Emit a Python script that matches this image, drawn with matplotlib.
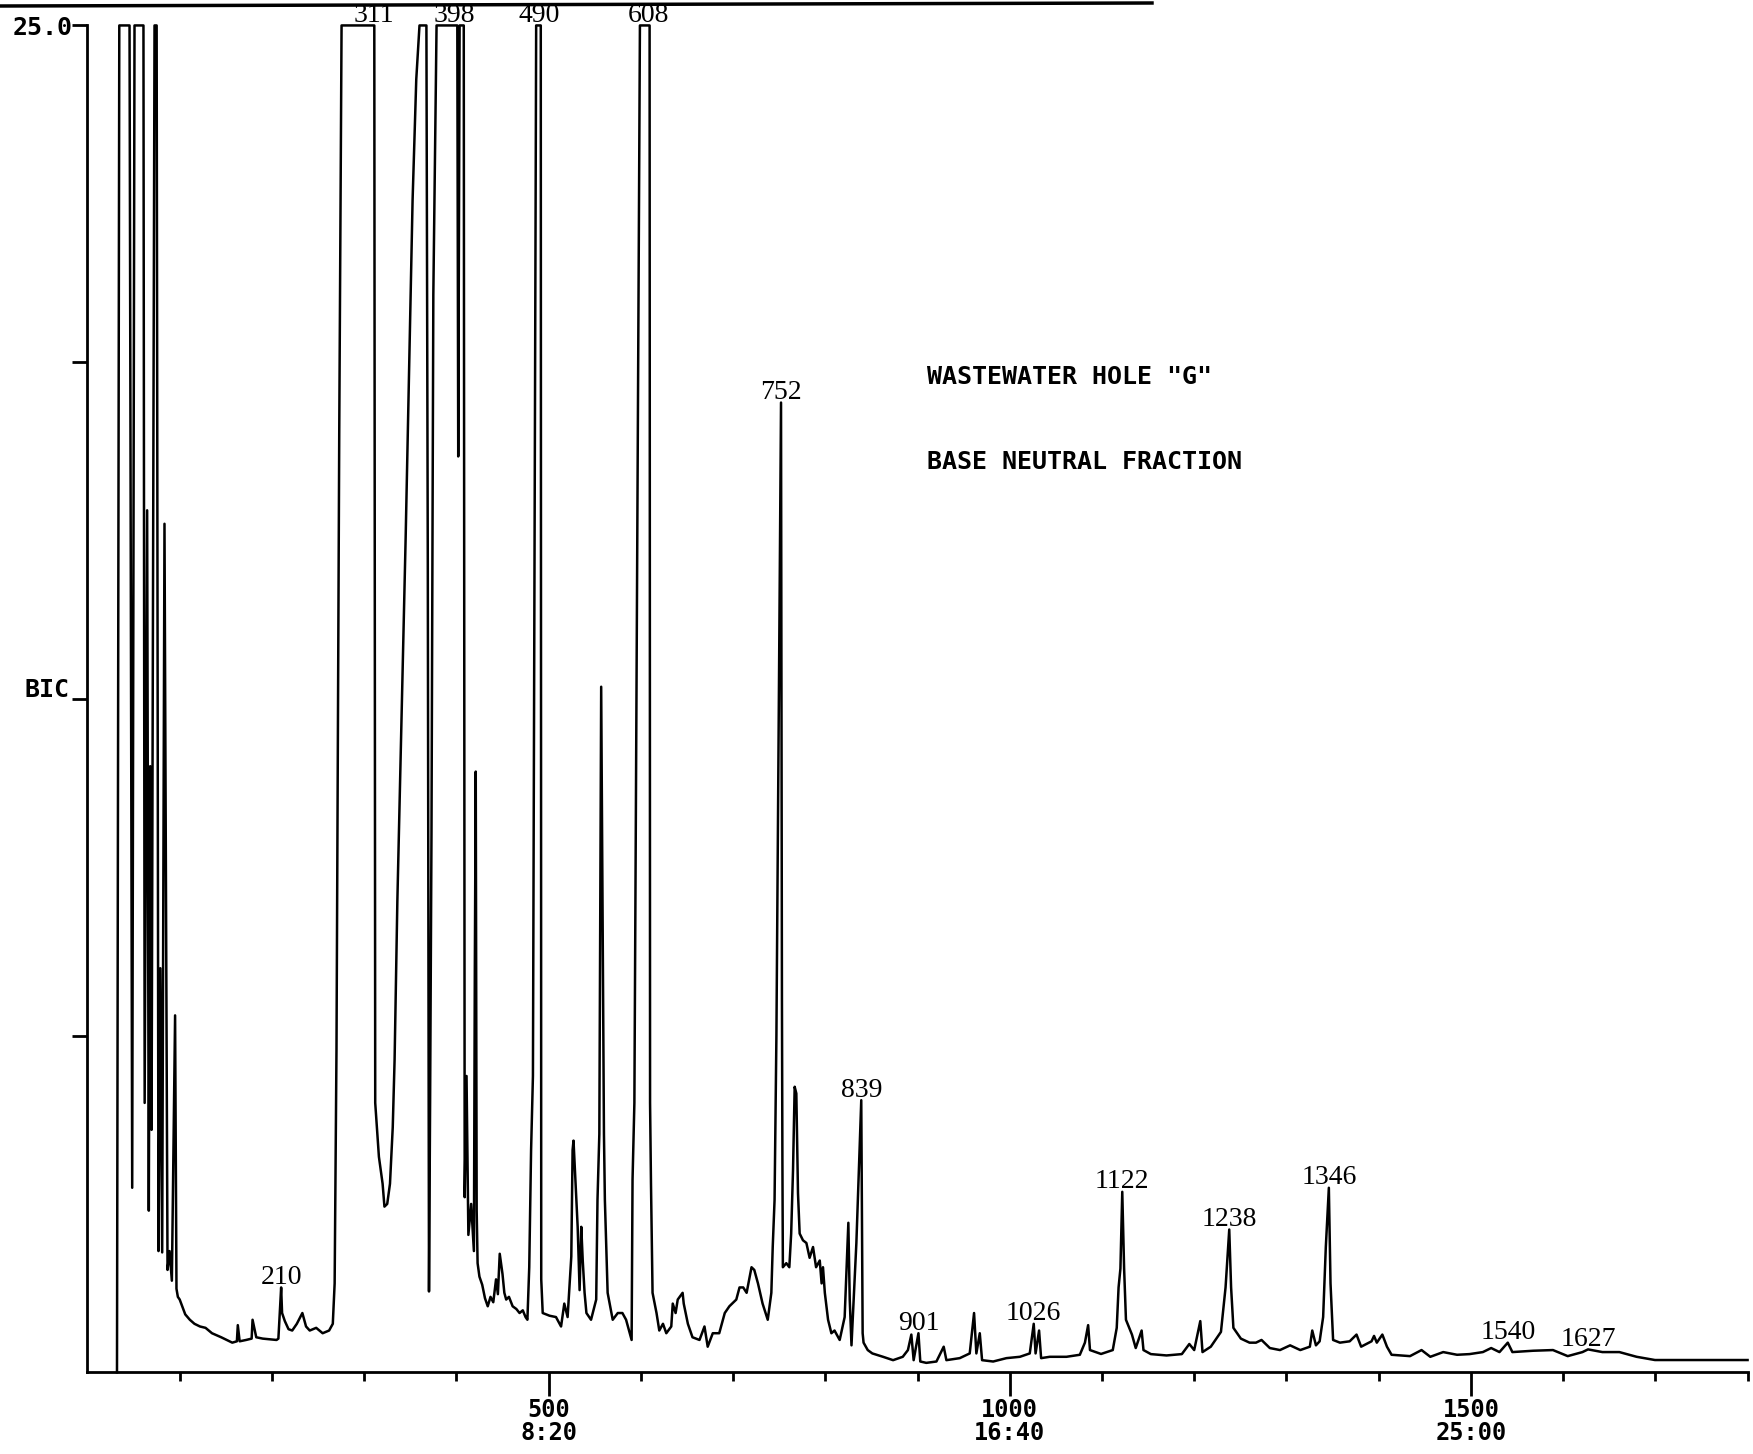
import matplotlib
matplotlib.use("Agg")
import matplotlib.pyplot as plt
from matplotlib.lines import Line2D
import numpy as np

# Trace: scan number vs. abundance in % of the 25.0 full scale.
# Split into stretches of the run so each part stays readable.
scan_front = [32, 34.5, 45.6, 48.5, 51, 60.7, 62, 64.7, 66.5, 68, 69.5,
              72.7, 75, 77, 79, 81, 83.5, 86.8, 89, 91.5, 95, 96.5, 98]
abund_front = [0, 100, 100, 13.7, 100, 100, 20, 64, 12, 45, 18,
               100, 100, 9, 30, 8.9, 63, 7.6, 9, 6.8, 26.5, 6.2, 5.6]

scan_early = [100, 106, 111, 116, 122, 128, 135, 145, 157, 162, 163, 165,
              172, 178, 179, 183, 190, 198, 205, 207, 210, 211, 214, 218,
              222, 227, 233, 237, 241, 248, 255, 262, 266, 268, 270, 273,
              275.5]
abund_early = [5.4, 4.3, 3.9, 3.6, 3.4, 3.3, 2.9, 2.6, 2.2, 2.3, 3.5, 2.3,
               2.4, 2.5, 3.9, 2.6, 2.5, 2.45, 2.4, 2.5, 6.3, 4.4, 3.8, 3.2,
               3.1, 3.6, 4.4, 3.4, 3.1, 3.3, 2.9, 3.1, 3.6, 6.6, 24, 70,
               100]

scan_mid = [311, 312, 316, 320, 322, 325, 328, 331, 333, 336, 345, 352.5,
            356.5, 360, 367.5, 369, 370.3, 371.5, 373, 375, 378.5, 401, 402,
            403.5, 408, 409, 411, 413, 416, 419, 420, 421, 422, 423, 425,
            428, 431, 434, 437, 440, 443, 445, 447, 450, 452, 454, 457, 461,
            465, 468.5, 472, 475, 477, 479, 481, 483, 486.5]
abund_mid = [100, 20, 16, 14, 12.3, 12.5, 14, 18.2, 23.2, 35, 62, 87,
             96, 100, 100, 60, 6, 20, 40, 80, 100, 100, 68,
             100, 100, 13, 22, 10.2, 12.5, 9, 30, 44.6, 12, 8.1, 7.1,
             6.5, 5.5, 4.9, 5.6, 5.2, 6.9, 5.8, 8.8, 7.3, 5.9, 5.4, 5.6, 4.9,
             4.7, 4.4, 4.6, 4.1, 3.9, 7.8, 16.5, 22, 100]

scan_600 = [491.5, 492, 493.6, 501, 508, 513.5, 517, 520.6, 524.6, 526, 527,
            530, 531.5, 533.6, 535.4, 537, 539, 541, 546, 551.6, 553, 555,
            557, 560, 561, 564, 569.5, 575, 580, 584, 588, 590, 591, 593,
            599]
abund_600 = [100, 6.9, 4.4, 4.2, 4.1, 3.4, 5.1, 4.1, 8.6, 16.5, 17.2,
             13, 10.8, 6.1, 10.8, 8.3, 5.9, 4.4, 3.9, 5.4, 12.8, 17.7,
             50.9, 17.7, 12.8, 5.9, 3.9, 4.4, 4.4, 3.9, 2.9, 2.4, 14.3, 20,
             100]

scan_700 = [609.5, 610, 611, 612.7, 617, 620, 624, 627.6, 633, 634.6, 637.7,
            640, 645.3, 646.5, 651, 656, 663.6, 669, 672.5, 678, 685, 691,
            696, 703.5, 707, 711, 714.7, 720, 723, 727, 732, 737.6, 741.5,
            743, 745, 747, 752]
abund_700 = [100, 20, 14, 5.9, 4.4, 3.1, 3.6, 2.9, 3.4, 5.1, 4.4,
             5.4, 5.9, 5.1, 3.6, 2.6, 2.4, 3.4, 1.9, 2.9, 2.9, 4.4,
             4.9, 5.4, 6.3, 6.3, 5.9, 7.8, 7.6, 6.6, 5.1, 3.9, 5.9,
             9.3, 12.8, 25, 72]

scan_900 = [753, 753.5, 754, 757.7, 761, 763, 765, 766.8, 768.6, 770.4, 772.2,
            775.8, 779.5, 783, 786.7, 790, 794, 796, 797.5, 799.5, 803, 806.6,
            810, 815.6, 821, 825, 826.5, 828.4, 833.7, 839, 840.5, 841.5, 846,
            851, 862.6, 873.5, 884, 889.6, 893.3, 895.8, 901, 903, 909.5,
            920.5, 928.4, 931.3, 945.8, 956.6, 961.3, 963.8, 967.5, 970, 982,
            996.4, 1011, 1021.7, 1026, 1028, 1031.8, 1034, 1043.4, 1061.5,
            1076, 1081.5, 1085]
abund_900 = [27.6, 15.8, 7.8, 8.1, 7.8, 10.3, 15, 21.2, 20.7, 13.3, 10.3,
             9.8, 9.6, 8.5, 9.3, 7.8, 8.3, 6.6, 7.8, 5.9, 3.9, 2.9,
             3.1, 2.4, 4.1, 11.1, 5.4, 2.0, 9.6, 20.2, 2.9, 2.2, 1.65,
             1.4, 1.15, 0.9, 1.15, 1.65, 2.8, 0.9, 2.9, 0.8, 0.7,
             0.8, 1.9, 0.9, 1.05, 1.4, 4.4, 1.4, 2.9, 0.9, 0.8,
             1.05, 1.15, 1.4, 3.6, 1.4, 3.1, 1.05, 1.15, 1.15,
             1.3, 2.2, 3.5]

scan_late = [1087, 1099, 1111.7, 1116, 1118, 1120, 1122, 1124, 1126, 1132.5,
             1136.6, 1143, 1145, 1153, 1170, 1186.6, 1194.7, 1200, 1206.6,
             1209, 1218, 1229, 1234, 1238, 1240, 1242.5, 1250.6, 1260, 1267,
             1273, 1282, 1293, 1304, 1315, 1325.4, 1328, 1332, 1336, 1339.8,
             1342.7, 1346, 1347.8, 1350.6, 1358, 1368.6, 1376, 1381, 1392.3,
             1395, 1398, 1404, 1409, 1414, 1434, 1446.5, 1456, 1470, 1485,
             1498.5, 1513, 1522, 1531, 1540, 1545, 1567.6, 1589, 1605, 1621,
             1627, 1642.6, 1661, 1679.7, 1699.6, 1800]
abund_late = [1.65, 1.36, 1.65, 3.3, 6.3, 7.7, 13.4, 7.7, 3.9, 2.8,
              1.8, 3.1, 1.65, 1.35, 1.25, 1.35, 2.1, 1.65, 3.8,
              1.5, 1.9, 3.0, 6.3, 10.6, 6.3, 3.3, 2.5, 2.2, 2.2,
              2.4, 1.8, 1.65, 2.0, 1.65, 1.9, 3.1, 2.0, 2.3, 4.1,
              9.3, 13.7, 6.6, 2.4, 2.2, 2.3, 2.8, 1.9, 2.3,
              2.7, 2.2, 2.8, 1.9, 1.3, 1.2, 1.65, 1.15, 1.5, 1.3,
              1.35, 1.5, 1.8, 1.5, 2.2, 1.5, 1.6, 1.65, 1.2, 1.5,
              1.7, 1.5, 1.5, 1.15, 0.91, 0.91]

# labelled peaks (scan numbers printed above the trace)
peak_scans = [210, 311, 398, 490, 608, 752, 839, 901, 1026, 1122, 1238,
              1346, 1540, 1627]

# x axis: scan number with retention time (1 scan per second)
major_scans = [500, 1000, 1500]
major_labels = ["500\n8:20", "1000\n16:40", "1500\n25:00"]
minor_scans = [100, 200, 300, 400, 600, 700, 800, 900, 1100, 1200, 1300,
               1400, 1600, 1700, 1800]

title_lines = ['WASTEWATER HOLE "G"', "BASE NEUTRAL FRACTION"]

scans = np.concatenate([scan_front, scan_early, scan_mid, scan_600,
                        scan_700, scan_900, scan_late])
abund = np.concatenate([abund_front, abund_early, abund_mid, abund_600,
                        abund_700, abund_900, abund_late])

mono = "DejaVu Sans Mono"

fig = plt.figure(figsize=(17.53, 14.54), dpi=100)
ax = fig.add_axes([0.0499, 0.0562, 0.9470, 0.9263])

ax.plot(scans, abund, color="black", lw=1.8, clip_on=False)

ax.set_xlim(0, 1800)
ax.set_ylim(0, 100)

for side in ("top", "right"):
    ax.spines[side].set_visible(False)
for side in ("left", "bottom"):
    ax.spines[side].set_linewidth(2.0)

ax.set_xticks(major_scans)
ax.set_xticklabels(major_labels, fontfamily=mono, fontweight="bold",
                   fontsize=17)
for lbl in ax.get_xticklabels():
    lbl.set_linespacing(0.95)
ax.set_xticks(minor_scans, minor=True)
ax.tick_params(axis="x", which="major", length=17.5, width=2.0, pad=1)
ax.tick_params(axis="x", which="minor", length=6.7, width=2.0)

ax.set_yticks([25, 50, 75, 100])
ax.set_yticklabels(["", "", "", "25.0"], fontfamily=mono,
                   fontweight="bold", fontsize=18)
ax.tick_params(axis="y", length=11, width=2.0, pad=0)

ax.annotate("BIC", (0, 50), xytext=(-13, 1.5), textcoords="offset points",
            ha="right", va="baseline", fontfamily=mono, fontweight="bold",
            fontsize=18, annotation_clip=False)

# peak numbers above their apex
for s in peak_scans:
    top = np.interp(s, scans, abund)
    ax.annotate(str(s), (s, top), xytext=(0, 2.5), textcoords="offset points",
                ha="center", va="baseline", fontfamily="Liberation Serif",
                fontsize=20, annotation_clip=False)

ax.text(910, 73.9, title_lines[0], fontfamily=mono, fontweight="bold",
        fontsize=18, ha="left", va="center")
ax.text(910, 67.6, title_lines[1], fontfamily=mono, fontweight="bold",
        fontsize=18, ha="left", va="center")

# rule along the top edge of the page
fig.add_artist(Line2D([0, 1152 / 1753], [1 - 6 / 1454, 1 - 3 / 1454],
                      transform=fig.transFigure, color="black", lw=2.5,
                      zorder=10))

fig.savefig("out.png", dpi=100)
